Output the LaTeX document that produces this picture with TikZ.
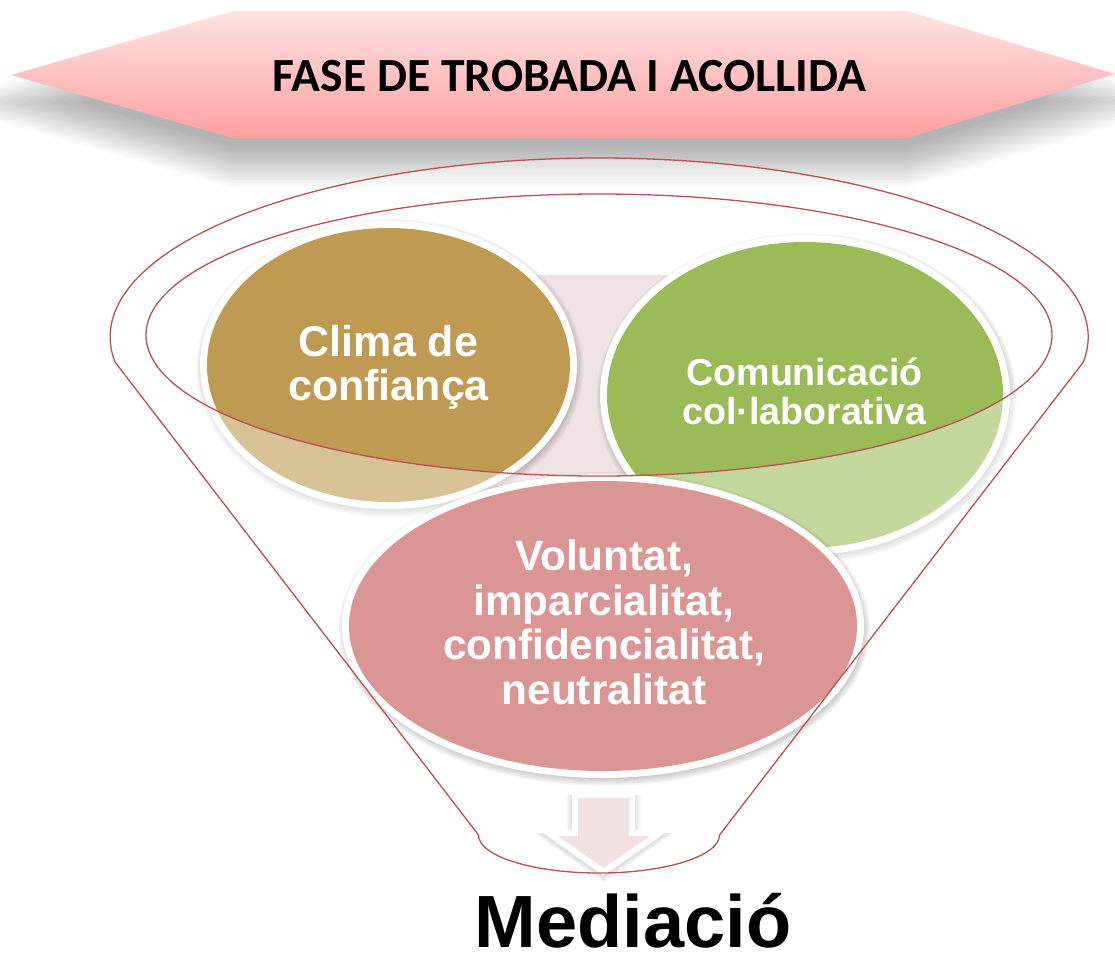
\documentclass[tikz,border=0pt]{standalone}
\usepackage{fontspec}
\setmainfont{Liberation Sans}
\newfontfamily\carlito{Carlito}
\definecolor{cbrown}{HTML}{BE9A52}
\definecolor{cgreen}{HTML}{9BBB59}
\definecolor{cpink}{HTML}{D99694}
\definecolor{cpale}{HTML}{F0E3E4}
\definecolor{carrow}{HTML}{F2E1E1}
\definecolor{cred}{HTML}{C0504D}
\definecolor{btop}{HTML}{FFE3E3}
\definecolor{bbot}{HTML}{FFA0A0}
\newcommand\myellshadow[4]{%
  \foreach \k in {1,...,8}{%
    \fill[black,opacity=0.03] ({#1+1.5},{#2+3}) ellipse[x radius={#3-5+1.25*\k}, y radius={#4-5+1.25*\k}];}}
\newcommand\mybubble[5]{%
  \myellshadow{#1}{#2}{#3+7}{#4+7}%
  \fill[white] (#1,#2) ellipse[x radius={#3+7}, y radius={#4+7}];
  \fill[#5] (#1,#2) ellipse[x radius=#3, y radius=#4];}
\newcommand\myfunnel{(115,362) arc[start angle=171.97, end angle=368.03, x radius=489, y radius=179] -- (719.5,835) arc[start angle=0, end angle=180, x radius=120.5, y radius=38] -- cycle}
\begin{document}
\begin{tikzpicture}[x=1pt,y=-1pt,
  redline/.style={draw=cred, line width=1.3pt},
  bubbletext/.style={text=white, align=center, inner sep=0pt}]
\useasboundingbox (0,0) rectangle (1115,953);
\fill[white] (0,0) rectangle (1115,953);

% banner shadow
\foreach \k in {1,...,16}{%
  \pgfmathsetmacro\s{2.75*\k}
  \fill[black, opacity=0.021] ({91-3.6*\s},103) -- (233,{61-\s}) -- (907,{61-\s}) -- ({1035+3.6*\s},102) -- (907,{144+\s}) -- (233,{144+\s}) -- cycle;
}

% pale background shape
\fill[cpale, rounded corners=60pt] (480,275) rectangle (720,560);

% top circles
\mybubble{388.5}{365}{181.5}{137}{cbrown}
\mybubble{805}{395}{198}{153}{cgreen}

% funnel veil
\fill[white, opacity=0.41, even odd rule] \myfunnel (599,335) ellipse[x radius=453, y radius=141];

% bottom circle
\mybubble{603}{626}{254}{145}{cpink}

% arrow
\foreach \k in {1,...,6}{%
  \fill[black, opacity=0.018, line join=round] ({578-6-\k},{798-6+3}) -- ({629+6+\k},{798-6+3}) -- ({629+6+\k},{836-6+3}) -- ({650+18+\k},{836-6+3}) -- (603.5,{868+9+\k}) -- ({558-18-\k},{836-6+3}) -- ({578-6-\k},{836-6+3}) -- cycle;
}
\draw[white, line width=12pt, line join=miter, fill=white] (578,798) -- (629,798) -- (629,836) -- (650,836) -- (603.5,868) -- (558,836) -- (578,836) -- cycle;
\fill[carrow] (578,798) -- (629,798) -- (629,836) -- (650,836) -- (603.5,868) -- (558,836) -- (578,836) -- cycle;

% funnel lines
\draw[redline, line join=round] \myfunnel;
\draw[redline] (599,335) ellipse[x radius=453, y radius=141];

% banner
\shade[top color=btop, bottom color=bbot] (11,75) -- (233,11) -- (907,11) -- (1115,74) -- (907,138) -- (233,138) -- cycle;
\node[inner sep=0pt, anchor=base, font=\carlito\bfseries\fontsize{47.6}{52}\selectfont] (bannertext) at (569.5,91) {FASE DE TROBADA I ACOLLIDA};

% texts
\node[bubbletext, anchor=north, font=\bfseries\fontsize{43}{44}\selectfont] (clima) at (388.5,325) {Clima de\\confiança};
\node[bubbletext, anchor=south, font=\bfseries\fontsize{37.6}{39}\selectfont] (comunicacio) at (804.5,425) {Comunicació\\col·laborativa};
\node[bubbletext, anchor=south, font=\bfseries\fontsize{42.3}{44.5}\selectfont] (voluntat) at (604,705) {Voluntat,\\imparcialitat,\\confidencialitat,\\neutralitat};
\node[inner sep=0pt, anchor=base, font=\bfseries\fontsize{74}{80}\selectfont] (mediacio) at (633,947) {Mediació};
\end{tikzpicture}
\end{document}
